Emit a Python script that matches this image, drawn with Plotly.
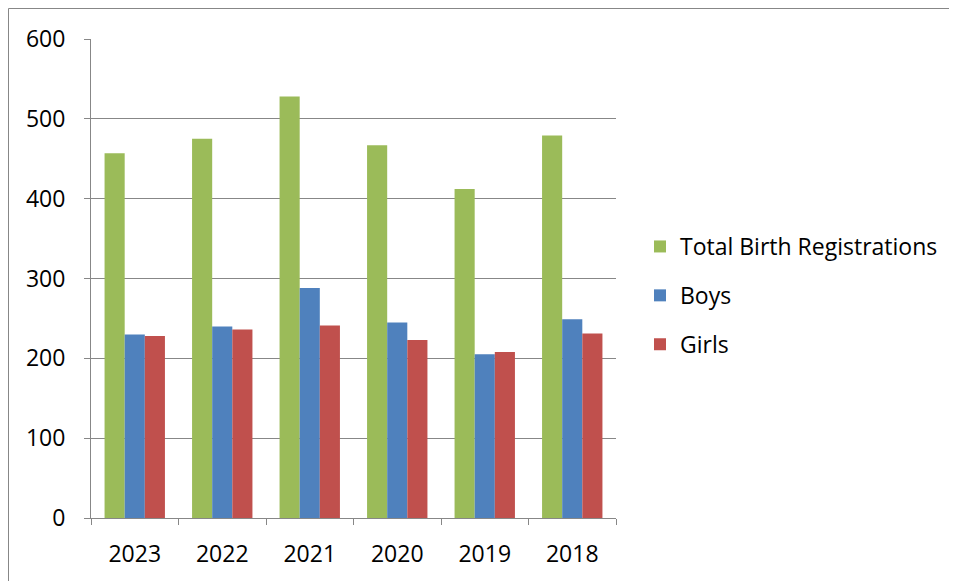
import plotly.graph_objects as go

years = ["2023", "2022", "2021", "2020", "2019", "2018"]
total = [457, 475, 528, 467, 412, 479]
boys = [230, 240, 288, 245, 205, 249]
girls = [228, 236, 241, 223, 208, 231]
y_ticks = [0, 100, 200, 300, 400, 500, 600]

W, H = 957, 581
L, R, T, B = 83, 349, 31, 71
pw, ph = W - L - R, H - T - B

fig = go.Figure()
series = [("Total Birth Registrations", total, "#9BBB59"),
          ("Boys", boys, "#4F81BD"),
          ("Girls", girls, "#C0504D")]
for name, vals, col in series:
    fig.add_trace(go.Bar(x=years, y=vals, name=name, marker_color=col,
                         marker_line_width=0, legendgroup=name))

font = dict(family="Open Sans, Liberation Sans, sans-serif", size=23, color="#000000")
grid = "#878787"
fig.update_layout(
    width=W, height=H, margin=dict(l=L, r=R, t=T, b=B, autoexpand=False),
    paper_bgcolor="white", plot_bgcolor="white", font=font,
    barmode="group", bargap=0.31, bargroupgap=0,
    legend=dict(x=(632 - L) / pw, y=(510 - 217) / ph, xanchor="left", yanchor="top",
                font=font, tracegroupgap=16, itemwidth=30, bgcolor="rgba(0,0,0,0)"),
    xaxis=dict(showline=True, linecolor=grid, linewidth=1, ticks="outside",
               tickson="boundaries", ticklen=6, tickcolor=grid, showgrid=False,
               ticklabelstandoff=15),
    yaxis=dict(range=[0, 600], tickvals=y_ticks, showline=True, linecolor=grid, linewidth=1,
               ticks="outside", ticklen=6, tickcolor=grid, showgrid=True,
               gridcolor=grid, gridwidth=1, zeroline=False, ticklabelstandoff=14),
    shapes=[dict(type="rect", xref="paper", yref="paper",
                 x0=(0.5 - L) / pw, x1=(943 - L) / pw,
                 y0=(510 - 700) / ph, y1=(510 - 0.5) / ph,
                 line=dict(color="#878787", width=1), fillcolor="rgba(0,0,0,0)", layer="below")],
)
fig.write_html("out.html")
